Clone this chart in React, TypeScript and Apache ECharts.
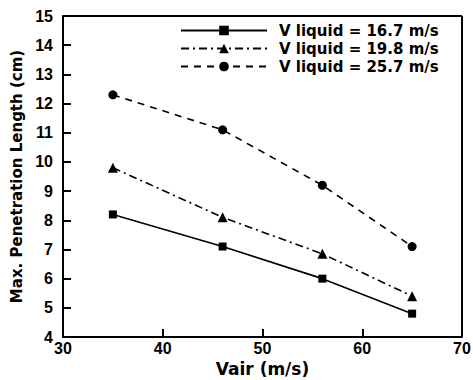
import React, { useEffect, useRef } from "react";
import * as echarts from "echarts";

const vair = [35, 46, 56, 65];
const v167 = [8.2, 7.1, 6.0, 4.8];
const v198 = [9.8, 8.1, 6.85, 5.4];
const v257 = [12.3, 11.1, 9.2, 7.1];
const seriesNames = ["V liquid = 16.7 m/s", "V liquid = 19.8 m/s", "V liquid = 25.7 m/s"];

export default function App() {
  const ref = useRef<HTMLDivElement>(null);
  useEffect(() => {
    const chart = echarts.init(ref.current!, null, { renderer: "svg" });
    const font = "Liberation Sans, Arial, sans-serif";
    const wide = "DejaVu Sans, sans-serif";
    const mk = (name: string, ys: number[], symbol: string, size: number, type: any) => ({
      name,
      type: "line",
      data: vair.map((x, i) => [x, ys[i]]),
      symbol,
      symbolSize: size,
      itemStyle: { color: "#000" },
      lineStyle: { color: "#000", width: 1.6, type },
    });
    chart.setOption({
      animation: false,
      backgroundColor: "#fff",
      grid: { left: 63, right: 11, top: 16, bottom: 43, show: false, outerBoundsMode: "none", containLabel: false },
      legend: {
        left: 180,
        top: 23,
        padding: 0,
        orient: "vertical",
        itemWidth: 86,
        itemHeight: 12,
        itemGap: 3,
        data: seriesNames,
        textStyle: { fontFamily: wide, fontWeight: "bold", fontSize: 15, color: "#000", padding: [0, 0, 0, 7] },
      },
      xAxis: {
        type: "value",
        min: 30,
        max: 70,
        interval: 10,
        name: "Vair (m/s)",
        nameLocation: "middle",
        nameGap: 20,
        nameTextStyle: { fontFamily: wide, fontWeight: "bold", fontSize: 17, color: "#000" },
        axisLine: { show: true, lineStyle: { color: "#000", width: 2 } },
        axisTick: { show: true, inside: true, length: 8, lineStyle: { color: "#000", width: 2 } },
        axisLabel: { fontFamily: font, fontWeight: "bold", fontSize: 16, color: "#000", margin: 3 },
        splitLine: { show: false },
      },
      yAxis: {
        type: "value",
        min: 4,
        max: 15,
        interval: 1,
        name: "Max. Penetration Length (cm)",
        nameLocation: "middle",
        nameGap: 29,
        nameTextStyle: { fontFamily: wide, fontWeight: "bold", fontSize: 15, color: "#000" },
        axisLine: { show: true, lineStyle: { color: "#000", width: 2 } },
        axisTick: { show: true, inside: true, length: 8, lineStyle: { color: "#000", width: 2 } },
        axisLabel: { fontFamily: font, fontWeight: "bold", fontSize: 16, color: "#000", margin: 10 },
        splitLine: { show: false },
      },
      graphic: [
        {
          type: "line",
          shape: { x1: 63, y1: 16, x2: 462, y2: 16 },
          style: { stroke: "#000", lineWidth: 2 },
        },
        {
          type: "line",
          shape: { x1: 462, y1: 16, x2: 462, y2: 337 },
          style: { stroke: "#000", lineWidth: 2 },
        },
      ],
      series: [
        mk(seriesNames[0], v167, "rect", 8, "solid"),
        mk(seriesNames[1], v198, "triangle", 10, [8, 4, 2, 4]),
        mk(seriesNames[2], v257, "circle", 9, [7, 6]),
      ],
    });
    return () => chart.dispose();
  }, []);
  return <div ref={ref} style={{ width: 473, height: 380, position: "absolute", left: 0, top: 0 }} />;
}
